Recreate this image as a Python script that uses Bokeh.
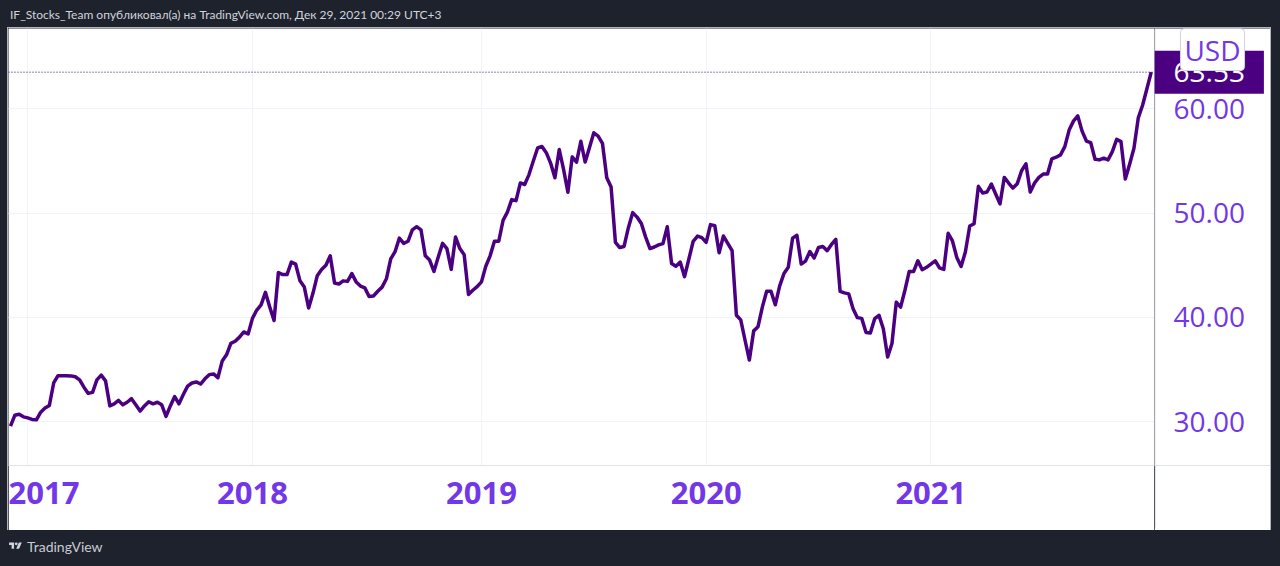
import pandas as pd
from bokeh.plotting import figure
from bokeh.models import (Range1d, FixedTicker, DatetimeTickFormatter, Grid, CustomJSTickFormatter,
                          Span, Label, Div, GlobalInlineStyleSheet)
from bokeh.layouts import column, row
from bokeh.core.properties import value
from bokeh.embed import file_html
from bokeh.resources import INLINE

# ---------------- data (weekly closes) ----------------
first_week = "2016-12-05"
close = [
    29.55, 30.6, 30.7, 30.45, 30.35, 30.2, 30.16, 30.9, 31.3, 31.55,
    33.7, 34.4, 34.4, 34.4, 34.38, 34.3, 34.0, 33.3, 32.7, 32.8,
    34.0, 34.45, 33.9, 31.5, 31.7, 32.03, 31.6, 31.85, 32.19, 31.6,
    31.0, 31.5, 31.9, 31.7, 31.85, 31.6, 30.5, 31.5, 32.4, 31.7,
    32.6, 33.4, 33.7, 33.8, 33.6, 34.1, 34.5, 34.57, 34.2, 35.8,
    36.4, 37.5, 37.7, 38.1, 38.6, 38.4, 39.9, 40.7, 41.2, 42.4,
    41.0, 39.7, 44.3, 44.1, 44.1, 45.3, 45.1, 43.5, 42.9, 40.9,
    42.3, 44.0, 44.6, 45.0, 45.9, 43.3, 43.2, 43.5, 43.45, 44.2,
    43.4, 43.0, 42.83, 42.0, 42.05, 42.5, 42.9, 43.7, 45.6, 46.3,
    47.6, 47.1, 47.3, 48.4, 48.7, 48.4, 45.9, 45.5, 44.4, 45.8,
    47.1, 46.6, 44.6, 47.7, 46.6, 46.0, 42.2, 42.6, 42.95, 43.4,
    44.9, 45.9, 47.3, 47.3, 49.3, 50.1, 51.3, 51.2, 52.9, 52.75,
    53.7, 55.0, 56.25, 56.4, 55.8, 54.8, 53.4, 56.1, 54.2, 52.0,
    55.4, 54.9, 56.9, 54.9, 56.3, 57.71, 57.4, 56.7, 53.4, 52.5,
    47.2, 46.7, 46.8, 48.6, 50.05, 49.62, 49.0, 47.7, 46.6, 46.75,
    46.95, 47.08, 48.7, 45.17, 44.9, 45.3, 43.9, 45.6, 47.3, 47.8,
    47.65, 47.2, 48.9, 48.8, 46.2, 47.8, 47.1, 46.4, 40.2, 39.75,
    37.8, 35.9, 38.7, 39.1, 40.98, 42.5, 42.5, 41.2, 43.0, 44.2,
    44.8, 47.6, 47.87, 45.11, 45.4, 46.32, 45.7, 46.7, 46.79, 46.4,
    47.0, 47.49, 42.5, 42.35, 42.25, 40.83, 39.97, 39.9, 38.54, 38.5,
    39.87, 40.19, 38.9, 36.2, 37.49, 41.46, 40.98, 42.6, 44.41, 44.4,
    45.43, 44.57, 44.8, 45.1, 45.43, 44.75, 44.6, 48.06, 47.33, 45.75,
    44.89, 46.29, 48.76, 48.98, 52.57, 51.93, 52.03, 52.79, 51.84, 50.89,
    53.43, 52.89, 52.41, 52.83, 54.07, 54.73, 52.03, 52.89, 53.43, 53.75,
    53.75, 55.21, 55.37, 55.59, 56.38, 57.97, 58.83, 59.33, 57.87, 56.92,
    56.76, 55.17, 55.11, 55.27, 55.11, 55.9, 57.08, 56.86, 53.27, 54.7,
    56.22, 59.14, 60.35, 61.94, 63.53,
]
year_ticks = ["2017-01-02", "2018-01-01", "2019-01-07", "2020-01-06", "2021-01-04"]
price_ticks = [30, 40, 50, 60]
price_labels = ["30.00", "40.00", "50.00", "60.00"]
currency = "USD"
header_text = "IF_Stocks_Team опубликовал(а) на TradingView.com, Дек 29, 2021 00:29 UTC+3"
brand = "TradingView"

# ---------------- style / layout ----------------
BG = "#1e222d"
LINE = "#4b0082"
LBL = "#7237e6"
GRID = "#f0f3fa"
AXIS = "#e0e3eb"
Y0, Y1 = 25.78, 67.72
FRAME_W, FRAME_H, BELOW, SCALE_W = 1146, 437, 65, 116

dates = pd.date_range(first_week, periods=len(close), freq="7D")
tick_ms = [pd.Timestamp(d).value // 10**6 for d in year_ticks]

# main chart pane
p = figure(width=FRAME_W, height=FRAME_H + BELOW, x_axis_type="datetime",
           y_axis_location=None, output_backend="svg", toolbar_location=None,
           x_range=Range1d(dates[0] - pd.Timedelta(days=3.2), dates[-1] + pd.Timedelta(days=5.3)),
           y_range=Range1d(Y0, Y1),
           min_border_left=0, min_border_top=0, min_border_right=0, min_border_bottom=BELOW,
           background_fill_color="white", border_fill_color="white")
p.outline_line_color = None

p.add_layout(Grid(dimension=1, ticker=FixedTicker(ticks=price_ticks), grid_line_color=GRID))
p.line(dates, close, line_color=LINE, line_width=3.5, line_join="round")

xa = p.xaxis[0]
xa.ticker = FixedTicker(ticks=tick_ms)
fmt = "%Y"
xa.formatter = DatetimeTickFormatter(microseconds=fmt, milliseconds=fmt, seconds=fmt, minsec=fmt,
                                     minutes=fmt, hourmin=fmt, hours=fmt, days=fmt, months=fmt, years=fmt)
xa.major_label_text_font = "Open Sans"
xa.major_label_text_font_style = "bold"
xa.major_label_text_font_size = "31px"
xa.major_label_text_color = LBL
xa.major_label_standoff = 10
xa.axis_line_color = AXIS
xa.major_tick_line_color = None
xa.minor_tick_line_color = None
p.xgrid.ticker = xa.ticker
p.xgrid.grid_line_color = GRID

p.add_layout(Span(location=close[-1], dimension="width", line_color="#2d0052",
                  line_dash="1 2", line_width=1))

# price scale pane (shares the vertical scale of the chart)
q = figure(width=SCALE_W, height=FRAME_H + BELOW, x_range=Range1d(0, SCALE_W),
           y_range=p.y_range, y_axis_location=None,
           output_backend="svg", toolbar_location=None,
           min_border_left=0, min_border_top=0, min_border_right=0, min_border_bottom=BELOW,
           background_fill_color="white", border_fill_color="white")
q.outline_line_color = None
q.grid.visible = False
qa = q.xaxis[0]
qa.ticker = FixedTicker(ticks=[0.5])          # separator continued through the time strip
qa.formatter = CustomJSTickFormatter(code="return ''")
qa.axis_line_color = AXIS
qa.major_tick_line_color = AXIS
qa.major_tick_in = 0
qa.major_tick_out = 62
qa.major_label_standoff = 0
qa.minor_tick_line_color = None

q.add_layout(Span(location=0.5, dimension="height", line_color=AXIS, line_width=1))

q.text(x=[19] * len(price_ticks), y=price_ticks, text=price_labels,
       text_font=value("Open Sans"), text_font_size="28px", text_color=LBL,
       text_align="left", text_baseline="middle")

q.add_layout(Label(x=0, y=close[-1], text=f"{close[-1]:.2f}", text_font="Open Sans",
                   text_font_size="28px", text_color="white", text_align="left",
                   text_baseline="middle", background_fill_color=LINE,
                   padding=dict(left=19, right=19, top=11, bottom=12)))
q.add_layout(Label(x=58, y=FRAME_H - 21, x_units="data", y_units="screen",
                   text=currency, text_font="Open Sans", text_font_size="28px",
                   text_color=LBL, text_align="center", text_baseline="middle",
                   background_fill_color="white", border_line_color="#d1d4dc",
                   border_radius=4, padding=dict(left=4, right=4, top=2, bottom=2)))

header = Div(text=('<div style="padding:8px 0 0 10px;white-space:nowrap;color:#d1d4dc;'
                   'font-family:Lato;font-size:12px;line-height:1.2;">' + header_text + '</div>'),
             width=1280, height=28, margin=0, styles={"background-color": BG})

logo = ('<svg width="13" height="10" viewBox="0 0 36 28" fill="#d1d4dc" '
        'style="margin-top:2px;flex:none">'
        '<path d="M14 22H7V11H0V4h14v18zM28 22h-8l7.5-18h8L28 22z"/>'
        '<circle cx="20" cy="8" r="4"/></svg>')
footer = Div(text=('<div style="display:flex;align-items:flex-start;gap:5px;padding:9px 0 0 9px;'
                   'color:#c8cbd3;font-family:Lato;font-size:14px;line-height:1.2;">' + logo +
                   '<span>' + brand + '</span></div>'),
             width=1280, height=36, margin=0, styles={"background-color": BG})

chart = row(p, q, spacing=0, margin=(0, 0, 0, 8),
            styles={"outline": "1px solid #b2b5be"})
layout = column(header, chart, footer, spacing=0,
                styles={"background-color": BG},
                stylesheets=[GlobalInlineStyleSheet(css=f"body{{background-color:{BG};}}")])

open("out.html", "w").write(file_html(layout, INLINE))
